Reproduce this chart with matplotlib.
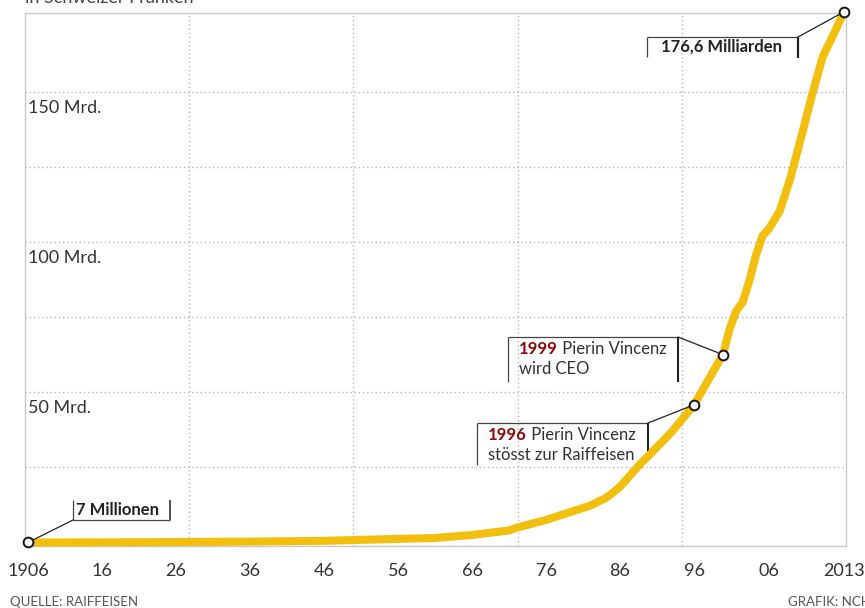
import numpy as np
import matplotlib
matplotlib.use("Agg")
import matplotlib.pyplot as plt
from matplotlib.scale import FuncScale

plt.rcParams['font.family'] = ['Lato', 'DejaVu Sans']

# Raiffeisen balance sheet total, in billions of Swiss francs
years = [1906, 1916, 1926, 1936, 1946, 1956, 1961, 1966, 1971, 1972, 1976, 1978,
         1980, 1982, 1984, 1985, 1986, 1987, 1988, 1989, 1990, 1991, 1992, 1993,
         1994, 1995, 1996, 1997, 1998, 1999, 2000, 2001, 2002, 2003, 2004, 2005,
         2006, 2007, 2008, 2009, 2010, 2011, 2012, 2013]
values = [0.007, 0.05, 0.15, 0.3, 0.55, 1.2, 1.5, 2.5, 4.0, 4.9, 7.5, 9.1,
          10.7, 12.3, 14.7, 16.5, 18.6, 21.3, 24.1, 26.8, 29.2, 31.8, 34.3, 36.9,
          39.8, 42.8, 45.8, 51.4, 57.0, 62.5, 71.0, 77.0, 80.0, 87.0, 95.5, 102.0,
          104.4, 110.3, 121.3, 134.8, 148.7, 161.5, 168.9, 176.6]

tick_years = [1906, 1916, 1926, 1936, 1946, 1956, 1966, 1976, 1986, 1996, 2006, 2013]
tick_labels = ['1906', '16', '26', '36', '46', '56', '66', '76', '86', '96', '06', '2013']

y_labels = {150: '150 Mrd.', 100: '100 Mrd.', 50: '50 Mrd.'}

# time axis: piecewise spacing of the year ticks
scale_years = np.array([1806.0, 1906, 1996, 1999, 2006, 2013, 2113])
scale_pos = np.array([-740.0, 0, 666, 695, 741, 816, 1887])

def fwd(x):
    return np.interp(x, scale_years, scale_pos)

def inv(p):
    return np.interp(p, scale_pos, scale_years)

W, H = 865, 608
fig = plt.figure(figsize=(W / 100, H / 100), dpi=100)
ax_l, ax_r, ax_t, ax_b = 25, 846, 13, 545.5
ax = fig.add_axes([ax_l / W, (H - ax_b) / H, (ax_r - ax_l) / W, (ax_b - ax_t) / H])
ax.set_xscale(FuncScale(ax.xaxis, (fwd, inv)))
ax.set_xlim(inv(-3), inv(818))
ax.set_ylim(-1, 176.2)

for s in ax.spines.values():
    s.set_color('#c8c8c8')
    s.set_linewidth(1.0)

grid_kw = dict(color='#b5b5b5', lw=1.0, ls=(0, (1, 2)), zorder=1)
for v in [25, 50, 75, 100, 125, 150]:
    ax.axhline(v, **grid_kw)
for f in [0.2, 0.4, 0.6, 0.8]:
    ax.plot([f, f], [0, 1], transform=ax.transAxes, **grid_kw)

ax.set_yticks([])
ax.set_xticks(tick_years)
ax.set_xticklabels(tick_labels)
ax.tick_params(axis='x', length=0, pad=12.5, labelsize=13, labelcolor='#333333')

text_color = '#333333'
for v, lab in y_labels.items():
    ax.annotate(lab, xy=(0, v), xycoords=('axes fraction', 'data'),
                xytext=(3, -8), textcoords='offset pixels', ha='left', va='top',
                fontsize=13, color=text_color)

ax.plot(years, values, color='#F2BF0E', lw=5.8, solid_joinstyle='round',
        solid_capstyle='round', zorder=3, clip_on=False)

marks = [0, years.index(1996), years.index(1999), len(years) - 1]
ax.plot([years[i] for i in marks], [values[i] for i in marks], ls='none', marker='o',
        ms=7, mfc='white', mec='#151515', mew=1.4, zorder=5, clip_on=False)


def px(x, y):
    return ((x - ax_l) / (ax_r - ax_l), (ax_b - y) / (ax_b - ax_t))


def seg(p0, p1, lw=0.9, color='#444444'):
    a, b = px(*p0), px(*p1)
    ax.plot([a[0], b[0]], [a[1], b[1]], transform=ax.transAxes, color=color, lw=lw,
            clip_on=False, zorder=2, solid_capstyle='butt')


def leader(corner, idx):
    ax.annotate('', xy=(years[idx], values[idx]), xycoords='data',
                xytext=px(*corner), textcoords='axes fraction',
                arrowprops=dict(arrowstyle='-', lw=0.9, color='#222222',
                                shrinkA=0, shrinkB=4),
                annotation_clip=False, zorder=4)


# 7 Millionen
seg((73, 500), (73, 520))
seg((73, 520), (170, 520))
seg((170, 500), (170, 520), lw=1.2, color='#333333')
ax.text(*px(76, 510), '7 Millionen', transform=ax.transAxes, ha='left', va='center',
        fontsize=12, fontweight='bold', color='#222222')
leader((73, 520), 0)

# 176,6 Milliarden
seg((647, 37), (798, 37))
seg((647, 37), (647, 57))
seg((798, 37), (798, 58), lw=1.6, color='#222222')
ax.text(*px(721, 47), '176,6 Milliarden', transform=ax.transAxes, ha='center',
        va='center', fontsize=12, fontweight='bold', color='#222222')
leader((798, 37), len(years) - 1)

# 1999
seg((508, 337), (678, 337))
seg((508, 337), (508, 382))
seg((678, 337), (678, 382), lw=1.5, color='#222222')
t1 = ax.text(*px(519, 357), '1999', transform=ax.transAxes, ha='left', va='bottom',
             fontsize=12, fontweight='bold', color='#8B0A0A')
ax.annotate(' Pierin Vincenz', xy=(1, 0), xycoords=t1, ha='left', va='bottom',
            fontsize=12, color=text_color)
ax.text(*px(519, 377), 'wird CEO', transform=ax.transAxes, ha='left', va='bottom',
        fontsize=12, color=text_color)
leader((678, 337), years.index(1999))

# 1996
seg((477, 423), (648, 423))
seg((477, 423), (477, 465))
seg((648, 423), (648, 452), lw=1.5, color='#222222')
t2 = ax.text(*px(488, 443), '1996', transform=ax.transAxes, ha='left', va='bottom',
             fontsize=12, fontweight='bold', color='#8B0A0A')
ax.annotate(' Pierin Vincenz', xy=(1, 0), xycoords=t2, ha='left', va='bottom',
            fontsize=12, color=text_color)
ax.text(*px(488, 463), 'stösst zur Raiffeisen', transform=ax.transAxes, ha='left',
        va='bottom', fontsize=12, color=text_color)
leader((648, 423), years.index(1996))

fig.text(25 / W, 1 - 3 / H, 'in Schweizer Franken', ha='left', va='baseline',
         fontsize=13, color='#444444')
fig.text(10 / W, 2 / H, 'QUELLE: RAIFFEISEN', ha='left', va='baseline',
         fontsize=9.5, color='#555555')
fig.text(788 / W, 2 / H, 'GRAFIK: NCH', ha='left', va='baseline',
         fontsize=9.5, color='#555555')

fig.savefig('out.png', dpi=100)
